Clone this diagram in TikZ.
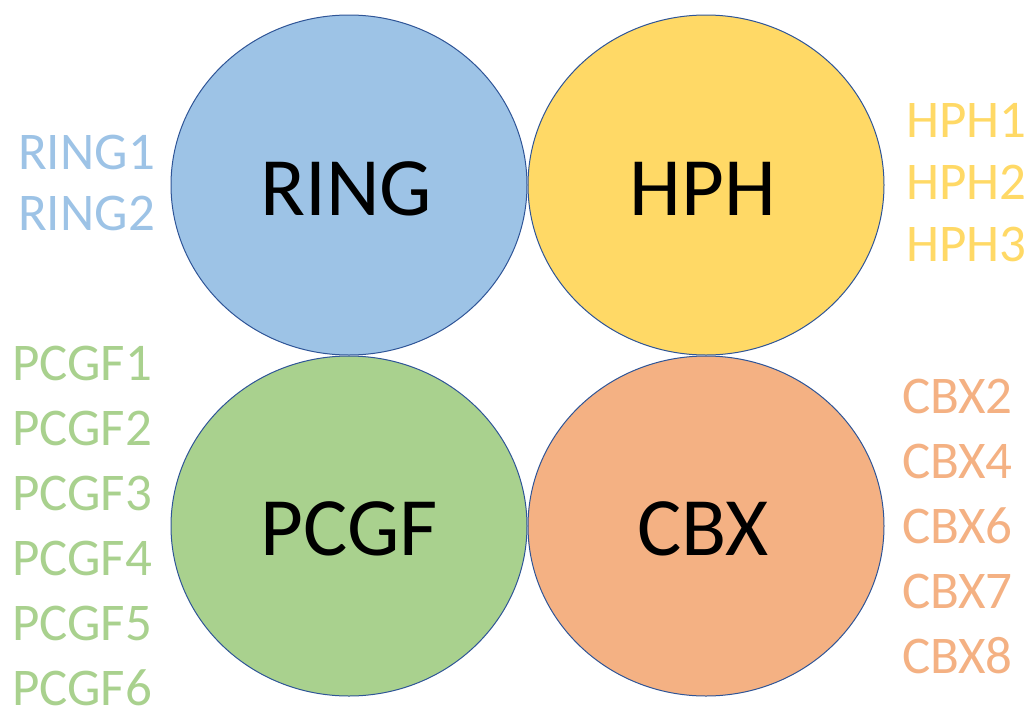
\documentclass[tikz,border=0pt]{standalone}
\usepackage{fontspec}
\setmainfont{Carlito}
\usepackage{xcolor}
\usetikzlibrary{shapes.geometric,positioning}

\definecolor{ringblue}{HTML}{9DC3E6}
\definecolor{hphyellow}{HTML}{FFD966}
\definecolor{pcgfgreen}{HTML}{A9D18E}
\definecolor{cbxorange}{HTML}{F4B183}
\definecolor{rimblue}{HTML}{2F5597}

\tikzset{
  group/.style={ellipse, draw=rimblue, line width=1pt, minimum width=356pt,
    minimum height=340pt, inner sep=0pt},
  groupname/.style={anchor=base, inner sep=0pt, font=\fontsize{83}{90}\selectfont},
  member/.style={anchor=base west, inner sep=0pt, font=\fontsize{53}{58}\selectfont}
}

\begin{document}
\begin{tikzpicture}[x=1pt,y=-1pt]
    \useasboundingbox (0,0) rectangle (1026,705);

    % Groups
    \node[group, fill=ringblue] (ring) at (349,185) {};
    \node[group, fill=hphyellow] (hph) at (706,185) {};
    \node[group, fill=pcgfgreen] (pcgf) at (349,526) {};
    \node[group, fill=cbxorange] (cbx) at (706,526) {};

    % Group names
    \node[groupname] (ringname) at (346,215) {RING};
    \node[groupname] (hphname) at (703,215) {HPH};
    \node[groupname] (pcgfname) at (349,555) {PCGF};
    \node[groupname] (cbxname) at (703,555) {CBX};

    % Members
    \foreach \n [count=\i] in {1,2}
        \node[member, text=ringblue] (ring\n) at (18,108+61*\i) {RING\n};
    \foreach \n [count=\i] in {1,2,3}
        \node[member, text=hphyellow] (hph\n) at (906,75+62*\i) {HPH\n};
    \foreach \n [count=\i] in {1,...,6}
        \node[member, text=pcgfgreen] (pcgf\n) at (12,315+65*\i) {PCGF\n};
    \foreach \n [count=\i] in {2,4,6,7,8}
        \node[member, text=cbxorange] (cbx\n) at (902,348+65*\i) {CBX\n};
\end{tikzpicture}
\end{document}
